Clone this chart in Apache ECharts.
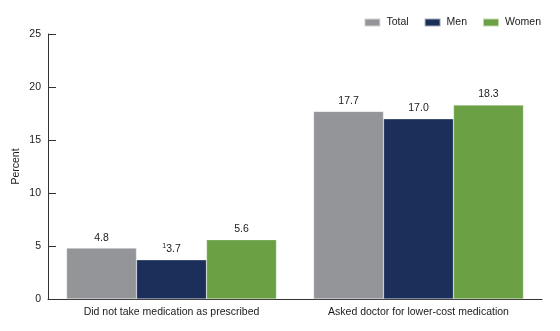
<!DOCTYPE html>
<html>
<head>
<meta charset="utf-8">
<script src="https://cdn.jsdelivr.net/npm/echarts@6/dist/echarts.min.js"></script>
<style>
  html, body { margin: 0; padding: 0; background: #fff; }
  #chart { width: 560px; height: 331px; }
</style>
</head>
<body>
<div id="chart"></div>
<script>
// Categories and percentages by sex
const categories = ['Did not take medication as prescribed', 'Asked doctor for lower-cost medication'];
const seriesNames = ['Total', 'Men', 'Women'];
const totalValues = [4.8, 17.7];
const menValues = [3.7, 17.0];
const womenValues = [5.6, 18.3];
// Estimates flagged with footnote 1 (index into categories)
const menFlagged = [true, false];

const colors = ['#939598', '#1c2e5a', '#6ca044'];
const FONT = 'Liberation Sans, Arial, sans-serif';
const FS = 10.5;

function makeSeries(name, values, color, flags) {
  return {
    name: name,
    type: 'bar',
    barGap: '0%',
    barCategoryGap: '15%',
    itemStyle: { color: color, borderColor: 'rgba(255,255,255,0.6)', borderWidth: 0.5 },
    data: values.map(function (v, i) {
      return { value: v, flag: flags ? flags[i] : false };
    }),
    label: {
      show: true,
      position: 'top',
      distance: 5,
      color: '#1a1a1a',
      fontFamily: FONT,
      fontSize: FS,
      formatter: function (p) {
        const txt = p.value.toFixed(1);
        return p.data.flag ? '{sup|1}' + txt : txt;
      },
      rich: {
        sup: { fontSize: 7, fontFamily: FONT, color: '#1a1a1a', verticalAlign: 'top', padding: [0, 0, 5, 0] }
      }
    }
  };
}

const chart = echarts.init(document.getElementById('chart'), null, { renderer: 'canvas' });
chart.setOption({
  animation: false,
  color: colors,
  textStyle: { fontFamily: FONT },
  legend: {
    data: seriesNames,
    right: 14,
    top: 12,
    itemWidth: 16,
    itemHeight: 8,
    itemGap: 15,
    icon: 'rect',
    textStyle: { fontFamily: FONT, fontSize: FS, color: '#1a1a1a', padding: [0, 0, 0, 1] }
  },
  grid: { left: 48, right: 18, top: 34, bottom: 32, containLabel: false },
  xAxis: {
    type: 'category',
    data: categories,
    axisLine: { lineStyle: { color: '#333', width: 1 } },
    axisTick: { show: false },
    axisLabel: { interval: 0, color: '#1a1a1a', fontFamily: FONT, fontSize: FS, margin: 8 }
  },
  yAxis: {
    type: 'value',
    min: 0,
    max: 25,
    interval: 5,
    name: 'Percent',
    nameLocation: 'middle',
    nameGap: 26,
    nameMoveOverlap: false,
    nameTextStyle: { color: '#1a1a1a', fontFamily: FONT, fontSize: FS },
    axisLine: { show: true, lineStyle: { color: '#333', width: 1 } },
    axisTick: { show: true, inside: true, length: 8, lineStyle: { color: '#333' } },
    axisLabel: { color: '#1a1a1a', fontFamily: FONT, fontSize: FS, margin: 7 },
    splitLine: { show: false }
  },
  series: [
    makeSeries(seriesNames[0], totalValues, colors[0]),
    makeSeries(seriesNames[1], menValues, colors[1], menFlagged),
    makeSeries(seriesNames[2], womenValues, colors[2])
  ]
});
</script>
</body>
</html>
